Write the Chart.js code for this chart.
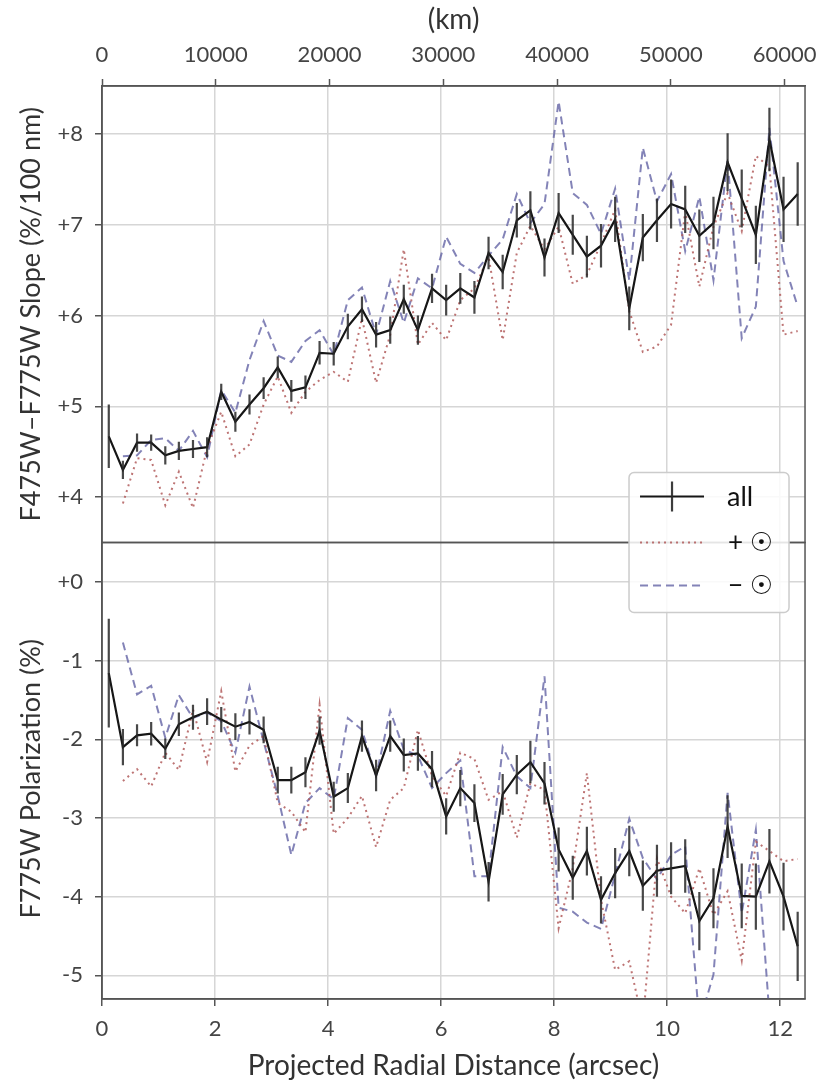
<!DOCTYPE html>
<html>
<head>
   <title>Slope and Polarization vs Radial Distance</title>
   <script src="https://cdn.jsdelivr.net/npm/chart.js"></script>
   <style>
       body { margin: 0; background: #fff; }
   </style>
</head>
<body>
   <canvas id="chart" width="828" height="1084"></canvas>

   <script>
       // bin centres (arcsec)
       const radius = [0.12,0.37,0.62,0.87,1.12,1.36,1.61,1.86,2.11,2.36,2.61,2.86,3.11,3.35,3.60,3.85,4.10,4.35,4.60,4.85,
                       5.10,5.34,5.59,5.84,6.09,6.34,6.59,6.84,7.09,7.34,7.58,7.83,8.08,8.33,8.58,8.83,9.08,9.33,9.57,9.82,
                       10.07,10.32,10.57,10.82,11.07,11.32,11.57,11.81,12.06,12.31];

       // F475W-F775W slope (%/100 nm)
       const slopeAll = [4.67,4.30,4.60,4.60,4.46,4.51,4.53,4.55,5.16,4.83,5.02,5.20,5.43,5.17,5.21,5.59,5.58,5.88,6.07,5.79,
                         5.84,6.18,5.84,6.30,6.17,6.30,6.20,6.69,6.48,7.05,7.16,6.64,7.13,6.89,6.65,6.77,7.06,6.08,6.86,7.05,
                         7.23,7.17,6.88,7.02,7.69,7.29,6.89,7.94,7.17,7.34];
       const slopeErr = [0.35,0.10,0.10,0.09,0.10,0.10,0.10,0.11,0.09,0.11,0.11,0.12,0.12,0.12,0.13,0.13,0.13,0.14,0.14,0.14,
                         0.15,0.16,0.16,0.16,0.17,0.17,0.18,0.18,0.19,0.19,0.21,0.21,0.22,0.22,0.23,0.24,0.25,0.24,0.26,0.24,
                         0.27,0.26,0.29,0.29,0.32,0.32,0.32,0.35,0.36,0.35];
       const slopePlus = [null,3.93,4.43,4.41,3.91,4.28,3.88,4.54,4.94,4.45,4.58,5.02,5.33,4.93,5.16,5.29,5.38,5.27,5.97,5.26,
                          5.79,6.73,5.68,5.92,5.73,6.17,6.30,6.65,5.73,6.69,6.99,6.73,6.98,6.35,6.45,6.79,7.17,6.05,5.60,5.66,
                          5.90,7.15,6.32,6.98,7.35,6.93,7.76,7.64,5.79,5.83];
       const slopeMinus = [null,4.45,4.46,4.63,4.65,4.51,4.73,4.44,5.18,4.93,5.51,5.94,5.56,5.49,5.72,5.84,5.57,6.17,6.31,5.79,
                           6.38,5.92,6.41,6.30,6.87,6.57,6.47,6.66,6.84,7.34,7.02,7.23,8.36,7.35,7.22,6.90,7.40,6.39,7.85,7.26,
                           7.56,6.71,7.31,6.39,7.72,5.75,6.10,8.07,6.60,6.10];

       // F775W polarization (%)
       const polAll = [-1.16,-2.10,-1.95,-1.93,-2.12,-1.81,-1.72,-1.65,-1.75,-1.84,-1.78,-1.88,-2.52,-2.52,-2.42,-1.89,-2.73,-2.62,-1.96,-2.46,
                       -1.96,-2.20,-2.18,-2.38,-2.98,-2.62,-2.81,-3.81,-2.70,-2.45,-2.29,-2.56,-3.40,-3.76,-3.42,-4.04,-3.70,-3.42,-3.86,-3.67,
                       -3.64,-3.61,-4.31,-4.02,-3.11,-3.99,-4.00,-3.55,-4.00,-4.63];
       const polErr = [0.69,0.23,0.14,0.15,0.13,0.15,0.16,0.17,0.16,0.17,0.16,0.17,0.17,0.17,0.19,0.18,0.19,0.19,0.20,0.20,
                       0.20,0.21,0.22,0.23,0.23,0.23,0.24,0.25,0.26,0.25,0.27,0.27,0.28,0.28,0.31,0.30,0.32,0.32,0.32,0.33,
                       0.33,0.34,0.37,0.38,0.40,0.41,0.42,0.41,0.43,0.44];
       const polPlus = [null,-2.53,-2.38,-2.60,-2.17,-2.39,-1.62,-2.29,-1.39,-2.41,-2.08,-1.96,-2.81,-2.92,-3.18,-1.56,-3.20,-3.00,-2.72,-3.37,
                        -2.77,-2.62,-1.88,-2.47,-2.72,-2.17,-2.25,-2.77,-2.66,-3.25,-2.56,-2.64,-4.40,-3.64,-2.43,-4.04,-4.93,-4.82,-5.60,-3.51,
                        -4.00,-4.21,-3.64,-4.23,-3.93,-4.81,-3.30,-3.42,-3.55,-3.52];
       const polMinus = [null,-0.77,-1.43,-1.32,-1.98,-1.44,-1.73,-1.66,-1.77,-2.17,-1.33,-2.03,-2.72,-3.47,-2.81,-2.62,-2.76,-1.73,-1.88,-2.47,
                         -1.64,-2.13,-2.21,-2.62,-2.43,-2.27,-3.74,-3.74,-2.10,-2.47,-2.62,-1.20,-4.14,-4.19,-4.33,-4.41,-3.72,-3.01,-3.51,-3.78,
                         -3.47,-3.36,-5.60,-4.99,-2.68,-4.21,-3.15,-5.50,-6.00,-6.00];

       const kmTicks = [0, 10000, 20000, 30000, 40000, 50000, 60000];
       const legendLabels = ["all", "+ \u2609", "\u2212 \u2609"];

       const X_MAX = 12.44;      // arcsec at right edge
       const KM_MAX = 61800;     // km at right edge

       const FONT = "Lato, 'Open Sans', sans-serif";
       const AXIS = "#555";
       const GRID = "#d6d6d6";
       const TEXT = "#444";
       const BLACK = "#161616";
       const RED = "rgba(178,92,92,0.85)";
       const BLUE = "rgba(100,100,165,0.8)";

       function pts(ys) {
           return radius.map((x, i) => ({x: x, y: ys[i]}));
       }

       function line(label, ys, yAxis, color, dash, errs) {
           return {
               label: label,
               data: pts(ys),
               xAxisID: "x",
               yAxisID: yAxis,
               borderColor: color,
               borderWidth: errs ? 2.2 : 2,
               borderDash: dash,
               pointRadius: 0,
               tension: 0,
               fill: false,
               errors: errs
           };
       }

       // error bars, panel frames, y titles and the legend
       const extras = {
           id: "extras",
           afterDatasetsDraw(chart) {
               const ctx = chart.ctx;
               const xs = chart.scales.x;
               chart.data.datasets.forEach(ds => {
                   if (!ds.errors) return;
                   const ys = chart.scales[ds.yAxisID];
                   ctx.save();
                   ctx.beginPath();
                   ctx.rect(xs.left, ys.top, xs.right - xs.left, ys.bottom - ys.top);
                   ctx.clip();
                   ctx.strokeStyle = "rgba(40,40,40,0.85)";
                   ctx.lineWidth = 2.2;
                   ds.data.forEach((p, i) => {
                       const e = ds.errors[i];
                       const px = xs.getPixelForValue(p.x);
                       ctx.beginPath();
                       ctx.moveTo(px, ys.getPixelForValue(p.y + e));
                       ctx.lineTo(px, ys.getPixelForValue(p.y - e));
                       ctx.stroke();
                   });
                   ctx.restore();
               });
           },
           afterDraw(chart) {
               const ctx = chart.ctx;
               const a = chart.chartArea;
               const top = chart.scales.ySlope;
               const bot = chart.scales.yPol;

               ctx.save();
               ctx.strokeStyle = AXIS;
               ctx.lineWidth = 1.5;
               ctx.strokeRect(a.left, top.top, a.right - a.left, top.bottom - top.top);
               ctx.strokeRect(a.left, bot.top, a.right - a.left, bot.bottom - bot.top);

               // y titles
               ctx.fillStyle = "#333";
               ctx.font = "27px " + FONT;
               ctx.textAlign = "center";
               ctx.textBaseline = "middle";
               ctx.save();
               ctx.translate(31, (top.top + top.bottom) / 2);
               ctx.rotate(-Math.PI / 2);
               ctx.fillText("F475W\u2013F775W Slope (%/100 nm)", 0, 0);
               ctx.restore();
               ctx.save();
               ctx.translate(31, (bot.top + bot.bottom) / 2 + 8);
               ctx.rotate(-Math.PI / 2);
               ctx.fillText("F775W Polarization (%)", 0, 0);
               ctx.restore();

               // legend
               const mid = top.bottom;
               const lx = a.right - 176, ly = mid - 70, lw = 160, lh = 140;
               ctx.beginPath();
               ctx.roundRect(lx, ly, lw, lh, 5);
               ctx.fillStyle = "rgba(255,255,255,0.85)";
               ctx.fill();
               ctx.strokeStyle = "#cccccc";
               ctx.lineWidth = 1.5;
               ctx.stroke();

               const rows = [ly + 24, ly + 70, ly + 113];
               const styles = [[BLACK, []], [RED, [2, 4]], [BLUE, [8, 5]]];
               rows.forEach((ry, i) => {
                   ctx.beginPath();
                   ctx.setLineDash(styles[i][1]);
                   ctx.strokeStyle = styles[i][0];
                   ctx.lineWidth = 2.2;
                   ctx.moveTo(lx + 11, ry);
                   ctx.lineTo(lx + 75, ry);
                   ctx.stroke();
               });
               ctx.setLineDash([]);
               ctx.beginPath();
               ctx.strokeStyle = "rgba(40,40,40,0.9)";
               ctx.moveTo(lx + 43, rows[0] - 15);
               ctx.lineTo(lx + 43, rows[0] + 15);
               ctx.stroke();

               ctx.fillStyle = "#111";
               ctx.textAlign = "left";
               ctx.font = "27px " + FONT;
               ctx.fillText(legendLabels[0], lx + 98, rows[0] + 1);
               ctx.font = "26px " + FONT + ", 'DejaVu Sans'";
               ctx.fillText(legendLabels[1], lx + 99, rows[1]);
               ctx.fillText(legendLabels[2], lx + 99, rows[2]);
               ctx.restore();
           }
       };

       const tickFont = {family: FONT, size: 22};
       const titleFont = {family: FONT, size: 28};
       const gridOpts = {color: GRID, lineWidth: 1.5, tickLength: 7, tickColor: AXIS, tickWidth: 1.5};

       const ctx = document.getElementById("chart").getContext("2d");
       const chart = new Chart(ctx, {
           type: "line",
           data: {
               datasets: [
                   line("all", slopeAll, "ySlope", BLACK, [], slopeErr),
                   line("+sun", slopePlus, "ySlope", RED, [2, 4]),
                   line("-sun", slopeMinus, "ySlope", BLUE, [8, 5]),
                   line("all", polAll, "yPol", BLACK, [], polErr),
                   line("+sun", polPlus, "yPol", RED, [2, 4]),
                   line("-sun", polMinus, "yPol", BLUE, [8, 5])
               ]
           },
           options: {
               responsive: false,
               animation: false,
               layout: { padding: { left: 0, right: 19, top: 0, bottom: 0 } },
               plugins: { legend: { display: false }, tooltip: { enabled: false } },
               scales: {
                   x: {
                       type: "linear", position: "bottom", min: 0, max: X_MAX,
                       ticks: { stepSize: 2, includeBounds: false, font: tickFont, color: TEXT, padding: 10 },
                       grid: gridOpts,
                       border: { color: AXIS, width: 1.5 },
                       title: { display: true, text: "Projected Radial Distance (arcsec)", color: "#333",
                                font: titleFont, padding: { top: 0, bottom: 1 } },
                       afterFit: s => { s.height = 85; }
                   },
                   km: {
                       type: "linear", position: "top", min: 0, max: KM_MAX,
                       afterBuildTicks: s => { s.ticks = kmTicks.map(v => ({value: v})); },
                       ticks: { font: tickFont, color: TEXT, padding: 11, callback: v => String(v) },
                       grid: { drawOnChartArea: false, tickLength: 7, tickColor: AXIS, tickWidth: 1.5, color: AXIS },
                       border: { color: AXIS, width: 1.5 },
                       title: { display: true, text: "(km)", color: "#333",
                                font: titleFont, padding: { top: 3, bottom: 0 } },
                       afterFit: s => { s.height = 86; }
                   },
                   yPol: {
                       type: "linear", position: "left", stack: "panels", stackWeight: 1,
                       min: -5.3, max: 0.5,
                       ticks: { stepSize: 1, includeBounds: false, font: tickFont, color: TEXT, padding: 12,
                                callback: v => v >= 0 ? "+" + v : "-" + Math.abs(v) },
                       grid: gridOpts,
                       border: { color: AXIS, width: 1.5 },
                       afterFit: s => { s.width = 102; }
                   },
                   ySlope: {
                       type: "linear", position: "left", stack: "panels", stackWeight: 1,
                       min: 3.5, max: 8.53,
                       ticks: { stepSize: 1, includeBounds: false, font: tickFont, color: TEXT, padding: 12,
                                callback: v => "+" + v },
                       grid: gridOpts,
                       border: { color: AXIS, width: 1.5 },
                       afterFit: s => { s.width = 102; }
                   }
               }
           },
           plugins: [extras]
       });
   </script>
</body>
</html>
